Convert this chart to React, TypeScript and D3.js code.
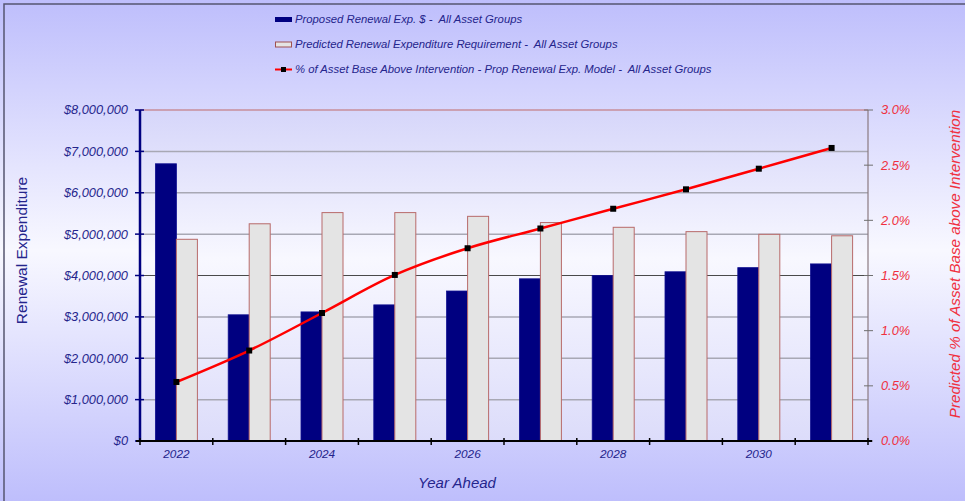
import React from "react";
import * as d3 from "d3";

const years = ["2022", "2023", "2024", "2025", "2026", "2027", "2028", "2029", "2030", "2031"];
const proposed = [6700000, 3050000, 3120000, 3290000, 3625000, 3920000, 4000000, 4090000, 4190000, 4280000];
const predicted = [4875000, 5250000, 5520000, 5520000, 5430000, 5280000, 5165000, 5060000, 4995000, 4960000];
const pctAbove = [0.535, 0.82, 1.16, 1.505, 1.747, 1.926, 2.105, 2.281, 2.468, 2.656];
const leftTicks = [0, 1000000, 2000000, 3000000, 4000000, 5000000, 6000000, 7000000, 8000000];
const rightTicks = [0, 0.5, 1.0, 1.5, 2.0, 2.5, 3.0];
const yearLabels = ["2022", "2024", "2026", "2028", "2030"];
const legendLabels = [
  "Proposed Renewal Exp. $ -  All Asset Groups",
  "Predicted Renewal Expenditure Requirement -  All Asset Groups",
  "% of Asset Base Above Intervention - Prop Renewal Exp. Model -  All Asset Groups",
];

const W = 965;
const H = 501;
const L = 140, R = 868, T = 110, B = 441;
const FONT = "'Liberation Sans', Arial, sans-serif";
const NAVY = "#000080";
const TXT = "#25258c";

export default function App() {
  const x = d3.scaleBand().domain(years).range([L, R]).paddingInner(0).paddingOuter(0);
  const x1 = d3.scaleBand().domain(["p", "q"]).range([0, x.bandwidth()]).paddingInner(0).paddingOuter(0.733);
  const yL = d3.scaleLinear().domain([0, 8000000]).range([B, T]);
  const yR = d3.scaleLinear().domain([0, 3]).range([B, T]);
  const fmtMoney = (v: number) => "$" + d3.format(",")(v);
  const line = d3
    .line<number>()
    .x((_, i) => (x(years[i]) as number) + x.bandwidth() / 2)
    .y((d) => yR(d))
    .curve(d3.curveCatmullRom.alpha(0.5));
  const boundaries = years.map((y) => x(y) as number).concat([R]);

  return (
    <div style={{ position: "absolute", left: 0, top: 0 }}>
      <svg width={W} height={H} style={{ display: "block" }}>
        <defs>
          <linearGradient id="bg" x1="0" y1="0" x2="0" y2="1">
            <stop offset="0" stopColor="#bebefc" />
            <stop offset="0.5" stopColor="#f8f8ff" />
            <stop offset="1" stopColor="#bebefc" />
          </linearGradient>
          <linearGradient id="plotbg" x1="0" y1="0" x2="0" y2="1">
            <stop offset="0" stopColor="#d6d6fa" />
            <stop offset="0.45" stopColor="#f8f8ff" />
            <stop offset="1" stopColor="#dcdcfa" />
          </linearGradient>
        </defs>
        <rect x={0} y={0} width={W} height={H} fill="url(#bg)" />
        <rect x={4} y={4} width={W + 10} height={H + 10} fill="none" stroke="#565670" strokeWidth={1.5} />
        <rect x={L} y={T} width={R - L} height={B - T} fill="url(#plotbg)" />

        {/* gridlines */}
        {leftTicks.slice(1, -1).map((t) => (
          <line
            key={"g" + t}
            x1={L}
            x2={R}
            y1={yL(t)}
            y2={yL(t)}
            stroke={t === 4000000 ? "#4a4a4a" : "#a8a8b4"}
            strokeWidth={t === 4000000 ? 1 : 1.5}
          />
        ))}
        <line x1={L} x2={R} y1={T} y2={T} stroke="#c06a6a" strokeWidth={1.2} />
        <line x1={R} x2={R} y1={T} y2={B} stroke="#8a7a80" strokeWidth={1.2} />

        {/* bars */}
        {years.map((yr, i) => {
          const bx = x(yr) as number;
          return (
            <g key={"b" + yr}>
              <rect
                x={bx + (x1("p") as number)}
                y={yL(proposed[i])}
                width={x1.bandwidth()}
                height={B - yL(proposed[i])}
                fill={NAVY}
                stroke="#101090"
                strokeWidth={0.8}
              />
              <rect
                x={bx + (x1("q") as number)}
                y={yL(predicted[i])}
                width={x1.bandwidth()}
                height={B - yL(predicted[i])}
                fill="#e4e4e4"
                stroke="#b86a6a"
                strokeWidth={1}
              />
            </g>
          );
        })}

        {/* line */}
        <path d={line(pctAbove) || ""} fill="none" stroke="#ff0000" strokeWidth={2.5} />
        {pctAbove.map((v, i) => (
          <rect
            key={"m" + i}
            x={(x(years[i]) as number) + x.bandwidth() / 2 - 3}
            y={yR(v) - 3}
            width={6}
            height={6}
            fill="#000"
          />
        ))}

        {/* left axis */}
        <line x1={L} x2={L} y1={T} y2={B} stroke={NAVY} strokeWidth={2.5} />
        {leftTicks.map((t) => (
          <g key={"lt" + t}>
            <line x1={L - 5} x2={L + 4} y1={yL(t)} y2={yL(t)} stroke={NAVY} strokeWidth={1.5} />
            <text
              x={L - 12}
              y={yL(t)}
              dy="0.35em"
              textAnchor="end"
              fontFamily={FONT}
              fontStyle="italic"
              fontSize={12.8}
              fill={TXT}
            >
              {fmtMoney(t)}
            </text>
          </g>
        ))}

        {/* right axis */}
        {rightTicks.map((t) => (
          <g key={"rt" + t}>
            <line x1={R - 4} x2={R + 5} y1={yR(t)} y2={yR(t)} stroke="#707070" strokeWidth={1} />
            <text
              x={R + 13}
              y={yR(t)}
              dy="0.35em"
              textAnchor="start"
              fontFamily={FONT}
              fontStyle="italic"
              fontSize={12.8}
              fill="#f03040"
            >
              {t.toFixed(1) + "%"}
            </text>
          </g>
        ))}

        {/* bottom axis */}
        <line x1={L - 4} x2={R + 4} y1={B} y2={B} stroke="#000" strokeWidth={2} />
        {boundaries.map((bx, i) => (
          <line key={"bt" + i} x1={bx} x2={bx} y1={B - 3} y2={B + 4} stroke="#000" strokeWidth={1.5} />
        ))}
        {yearLabels.map((yr) => (
          <text
            key={"yl" + yr}
            x={(x(yr) as number) + x.bandwidth() / 2}
            y={B + 17}
            textAnchor="middle"
            fontFamily={FONT}
            fontStyle="italic"
            fontSize={11.8}
            fill={TXT}
          >
            {yr}
          </text>
        ))}

        {/* axis titles */}
        <text
          x={(L + R) / 2 - 47}
          y={488}
          textAnchor="middle"
          fontFamily={FONT}
          fontStyle="italic"
          fontSize={15}
          fill={TXT}
        >
          Year Ahead
        </text>
        <text
          transform={`translate(27, ${(T + B) / 2 - 25}) rotate(-90)`}
          textAnchor="middle"
          fontFamily={FONT}
          fontSize={15.5}
          fill={TXT}
        >
          Renewal Expenditure
        </text>
        <text
          transform={`translate(960, 264) rotate(-90)`}
          textAnchor="middle"
          fontFamily={FONT}
          fontStyle="italic"
          fontSize={15.2}
          fill="#f03040"
        >
          Predicted % of Asset Base above Intervention
        </text>

        {/* legend */}
        {legendLabels.map((lab, i) => {
          const cy = 19.5 + i * 25;
          return (
            <g key={"lg" + i}>
              {i === 0 && <rect x={275} y={cy - 2.5} width={17} height={5} fill={NAVY} />}
              {i === 1 && (
                <rect x={275.5} y={cy - 2.5} width={16} height={5} fill="#e4e4e4" stroke="#a05050" strokeWidth={1} />
              )}
              {i === 2 && (
                <g>
                  <line x1={275} x2={292} y1={cy} y2={cy} stroke="#ff0000" strokeWidth={2} />
                  <rect x={281} y={cy - 2.5} width={5} height={5} fill="#000" />
                </g>
              )}
              <text
                x={295}
                y={cy}
                dy="0.35em"
                fontFamily={FONT}
                fontStyle="italic"
                fontSize={11.3}
                fill={TXT}
                style={{ whiteSpace: "pre" }}
              >
                {lab}
              </text>
            </g>
          );
        })}
      </svg>
    </div>
  );
}
